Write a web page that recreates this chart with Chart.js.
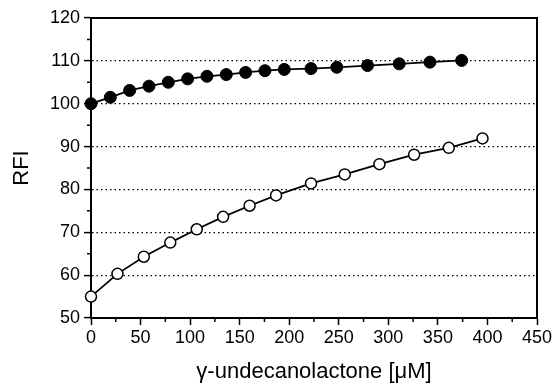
<!DOCTYPE html>
<html>
<head>
<meta charset="utf-8">
<script src="https://cdn.jsdelivr.net/npm/chart.js@4/dist/chart.umd.min.js"></script>
<style>
  html, body { margin: 0; padding: 0; background: #fff; }
  #wrap { width: 556px; height: 387px; }
</style>
</head>
<body>
<div id="wrap"><canvas id="rfiChart" width="556" height="387"></canvas></div>
<script>
// filled circles
var filledX = [0, 19.5, 39, 58.5, 78, 97.5, 117, 136.5, 156, 175.5, 195, 222, 248, 279, 311, 342, 374];
var filledY = [100, 101.5, 103.1, 104.1, 105, 105.8, 106.4, 106.8, 107.3, 107.7, 108, 108.2, 108.5, 108.9, 109.3, 109.7, 110.1];
// open circles
var openX = [0, 26.7, 53.3, 80, 106.7, 133.3, 160, 186.7, 222, 256, 291, 326, 361, 395];
var openY = [55, 60.3, 64.3, 67.6, 70.7, 73.6, 76.2, 78.6, 81.4, 83.5, 85.9, 88.1, 89.7, 91.9];

var xTicks = [0, 50, 100, 150, 200, 250, 300, 350, 400, 450];
var yTicks = [50, 60, 70, 80, 90, 100, 110, 120];

function toPoints(xs, ys) {
    return xs.map(function (x, i) { return { x: x, y: ys[i] }; });
}

var font = "'Liberation Sans', Arial, Helvetica, sans-serif";

// box on top/right + short minor ticks
var framePlugin = {
    id: 'frame',
    beforeDatasetsDraw: function (chart) {
        var c = chart.ctx, a = chart.chartArea;
        var xs = chart.scales.x, ys = chart.scales.y;
        c.save();
        c.strokeStyle = '#000';
        c.lineWidth = 2;
        c.beginPath();
        c.moveTo(a.left, a.top);
        c.lineTo(a.right, a.top);
        c.lineTo(a.right, a.bottom);
        c.stroke();
        c.lineWidth = 1.5;
        c.beginPath();
        for (var v = 25; v < 450; v += 50) {
            var px = xs.getPixelForValue(v);
            c.moveTo(px, a.bottom);
            c.lineTo(px, a.bottom + 4);
        }
        for (var w = 55; w < 120; w += 10) {
            var py = ys.getPixelForValue(w);
            c.moveTo(a.left, py);
            c.lineTo(a.left - 4, py);
        }
        c.stroke();
        c.restore();
    }
};

var ctx = document.getElementById('rfiChart').getContext('2d');
var myChart = new Chart(ctx, {
    type: 'scatter',
    data: {
        datasets: [{
            label: 'filled',
            data: toPoints(filledX, filledY),
            showLine: true,
            clip: false,
            borderColor: '#000',
            borderWidth: 1.8,
            pointRadius: 6,
            pointBackgroundColor: '#000',
            pointBorderColor: '#000',
            pointBorderWidth: 1
        }, {
            label: 'open',
            data: toPoints(openX, openY),
            showLine: true,
            clip: false,
            borderColor: '#000',
            borderWidth: 1.8,
            pointRadius: 5.5,
            pointBackgroundColor: '#fff',
            pointBorderColor: '#000',
            pointBorderWidth: 1.5
        }]
    },
    options: {
        responsive: false,
        animation: false,
        layout: { padding: { top: 18, right: 19, left: 0, bottom: 0 } },
        plugins: {
            legend: { display: false },
            tooltip: { enabled: false }
        },
        scales: {
            x: {
                type: 'linear',
                min: 0,
                max: 450,
                afterFit: function (s) { s.height = 69; },
                afterBuildTicks: function (s) {
                    s.ticks = xTicks.map(function (v) { return { value: v }; });
                },
                ticks: { color: '#000', font: { family: font, size: 18 }, padding: 2, maxRotation: 0, autoSkip: false },
                grid: { drawOnChartArea: false, drawTicks: true, tickLength: 7, tickColor: '#000', tickWidth: 1.5 },
                border: { display: true, color: '#000', width: 2 },
                title: {
                    display: true,
                    text: 'γ-undecanolactone [μM]',
                    color: '#000',
                    font: { family: font, size: 22 },
                    padding: { top: 2, bottom: 2 }
                }
            },
            y: {
                min: 50,
                max: 120,
                afterFit: function (s) { s.width = 91; },
                afterBuildTicks: function (s) {
                    s.ticks = yTicks.map(function (v) { return { value: v }; });
                },
                ticks: { color: '#000', font: { family: font, size: 18 }, padding: 4, autoSkip: false },
                grid: {
                    drawTicks: true,
                    tickLength: 7,
                    tickColor: '#000',
                    tickWidth: 1.5,
                    lineWidth: 1.2,
                    color: function (c) {
                        var v = c.tick && c.tick.value;
                        return (v === 50 || v === 120) ? 'rgba(0,0,0,0)' : '#000';
                    }
                },
                border: { display: true, color: '#000', width: 2, dash: [1.5, 3] },
                title: {
                    display: true,
                    text: 'RFI',
                    color: '#000',
                    font: { family: font, size: 22 },
                    padding: { top: 9, bottom: 0 }
                }
            }
        }
    },
    plugins: [framePlugin]
});
</script>
</body>
</html>
